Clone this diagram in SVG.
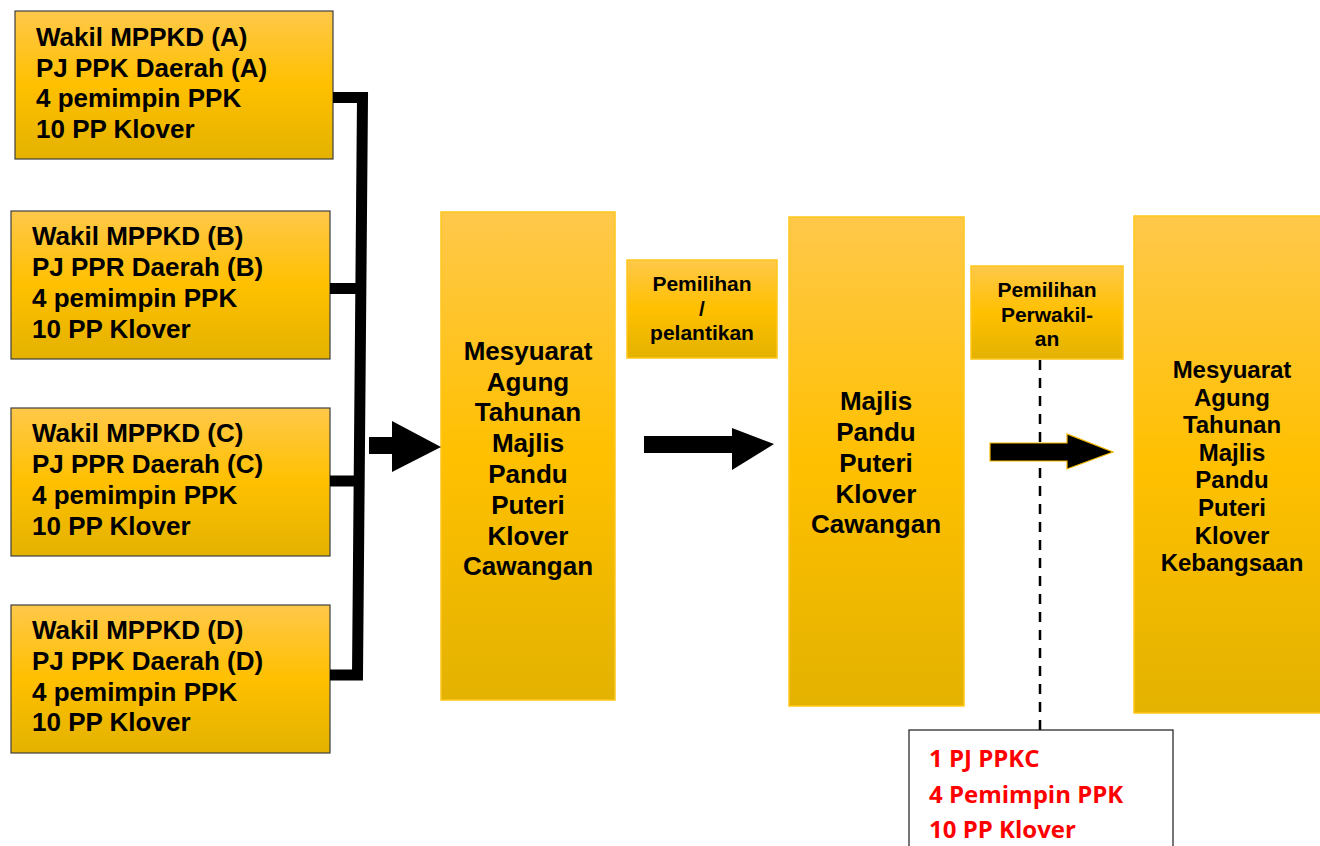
<svg xmlns="http://www.w3.org/2000/svg" width="1320" height="846" viewBox="0 0 1320 846">
<defs>
<linearGradient id="gold" x1="0" y1="0" x2="0" y2="1">
<stop offset="0" stop-color="#FFC84A"/>
<stop offset="0.5" stop-color="#FFC000"/>
<stop offset="1" stop-color="#E3B200"/>
</linearGradient>
<style>
.src{fill:url(#gold);stroke:#3F3F3F;stroke-width:1.2}
.big{fill:url(#gold);stroke:#FFC61A;stroke-width:1.5}
.lbl{fill:url(#gold);stroke:#FFC61A;stroke-width:1.5}
.t{font-family:"Liberation Sans",Arial,sans-serif;font-weight:bold;fill:#000}
.s26{font-size:26px}
.s24{font-size:24px}
.s21{font-size:21px}
.red{font-family:"Open Sans","Liberation Sans",sans-serif;font-weight:bold;font-size:24px;fill:#FF0000}
.wire{fill:none;stroke:#000;stroke-width:11;stroke-linejoin:miter}
</style>
</defs>
<rect width="1320" height="846" fill="#FFFFFF"/>

<g id="nodeA">
<rect class="src" x="15" y="11" width="318" height="148"/>
<text class="t s26" x="36" y="46">Wakil MPPKD (A)</text>
<text class="t s26" x="36" y="76.5">PJ PPK Daerah (A)</text>
<text class="t s26" x="36" y="107">4 pemimpin PPK</text>
<text class="t s26" x="36" y="138">10 PP Klover</text>
</g>
<g id="nodeB">
<rect class="src" x="11" y="211" width="319" height="148"/>
<text class="t s26" x="32" y="245">Wakil MPPKD (B)</text>
<text class="t s26" x="32" y="276">PJ PPR Daerah (B)</text>
<text class="t s26" x="32" y="307">4 pemimpin PPK</text>
<text class="t s26" x="32" y="338">10 PP Klover</text>
</g>
<g id="nodeC">
<rect class="src" x="11" y="408" width="319" height="148"/>
<text class="t s26" x="32" y="442">Wakil MPPKD (C)</text>
<text class="t s26" x="32" y="473">PJ PPR Daerah (C)</text>
<text class="t s26" x="32" y="504">4 pemimpin PPK</text>
<text class="t s26" x="32" y="535">10 PP Klover</text>
</g>
<g id="nodeD">
<rect class="src" x="11" y="605" width="319" height="148"/>
<text class="t s26" x="32" y="639">Wakil MPPKD (D)</text>
<text class="t s26" x="32" y="670">PJ PPK Daerah (D)</text>
<text class="t s26" x="32" y="701">4 pemimpin PPK</text>
<text class="t s26" x="32" y="731">10 PP Klover</text>
</g>

<g id="nodeAGM">
<rect class="big" x="441" y="212" width="174" height="488"/>
<g class="t s26" text-anchor="middle">
<text x="528" y="360">Mesyuarat</text>
<text x="528" y="391">Agung</text>
<text x="528" y="421">Tahunan</text>
<text x="528" y="452">Majlis</text>
<text x="528" y="483">Pandu</text>
<text x="528" y="514">Puteri</text>
<text x="528" y="545">Klover</text>
<text x="528" y="575">Cawangan</text>
</g>
</g>

<g id="nodeMajlis">
<rect class="big" x="789" y="217" width="175" height="489"/>
<g class="t s26" text-anchor="middle">
<text x="876" y="410">Majlis</text>
<text x="876" y="441">Pandu</text>
<text x="876" y="472">Puteri</text>
<text x="876" y="503">Klover</text>
<text x="876" y="533">Cawangan</text>
</g>
</g>

<g id="nodeNational">
<rect class="big" x="1134" y="216" width="190" height="497"/>
<g class="t s24" text-anchor="middle">
<text x="1232" y="378">Mesyuarat</text>
<text x="1232" y="406">Agung</text>
<text x="1232" y="433">Tahunan</text>
<text x="1232" y="461">Majlis</text>
<text x="1232" y="488">Pandu</text>
<text x="1232" y="516">Puteri</text>
<text x="1232" y="544">Klover</text>
<text x="1232" y="571">Kebangsaan</text>
</g>
</g>

<g id="labelPemilihan">
<rect class="lbl" x="627" y="260" width="150" height="98"/>
<g class="t s21" text-anchor="middle">
<text x="702" y="291">Pemilihan</text>
<text x="702" y="316">/</text>
<text x="702" y="340">pelantikan</text>
</g>
</g>

<g id="labelPerwakilan">
<rect class="lbl" x="971" y="266" width="152" height="93"/>
<g class="t s21" text-anchor="middle">
<text x="1047" y="297">Pemilihan</text>
<text x="1047" y="322">Perwakil-</text>
<text x="1047" y="346">an</text>
</g>
</g>

<g id="connectors">
<path class="wire" d="M333,97.5 H362.5 L357.5,675 H330"/>
<path class="wire" d="M330,288.5 H361"/>
<path class="wire" d="M330,481 H360"/>
<line x1="1040" y1="360" x2="1040" y2="730" stroke="#000" stroke-width="2.5" stroke-dasharray="10,8"/>
<polygon points="369,437 392,437 392,421 441,447 392,472 392,454 369,454" fill="#000"/>
<polygon points="644,436 732,436 732,428 774,444 732,470 732,453 644,453" fill="#000"/>
<polygon points="990,443 1067,443 1067,434 1113,452 1067,469 1067,461 990,461" fill="#000" stroke="#F2B800" stroke-width="1.2"/>
</g>

<g id="nodeResult">
<rect x="909" y="730" width="264" height="130" fill="#FFFFFF" stroke="#1A1A1A" stroke-width="1.2"/>
<text class="red" x="929" y="767">1 PJ PPKC</text>
<text class="red" x="929" y="803">4 Pemimpin PPK</text>
<text class="red" x="929" y="838">10 PP Klover</text>
</g>
</svg>
